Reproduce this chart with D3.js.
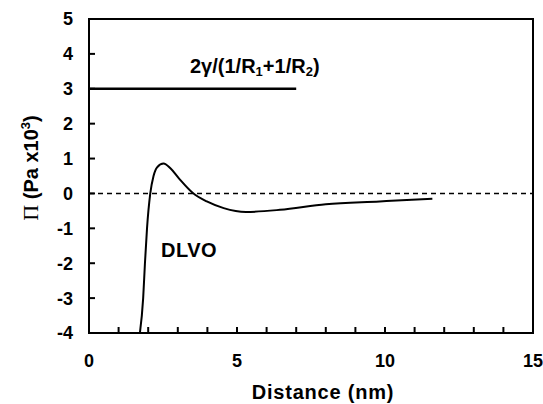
<!DOCTYPE html>
<html>
<head>
<meta charset="utf-8">
<script src="https://cdn.jsdelivr.net/npm/d3@7"></script>
<style>
  body { margin: 0; background: #fff; }
  svg { display: block; font-family: Arial, "Liberation Sans", sans-serif; }
</style>
</head>
<body>
<div id="chart"></div>
<script>
// DLVO curve (distance in nm, pressure in Pa x10^3)
const dlvoX = [1.72, 1.83, 1.89, 1.96, 2.07, 2.18, 2.3, 2.52, 2.75, 3.03, 3.5, 3.98, 4.55, 5.3, 6.45, 8.0, 9.82, 11.6];
const dlvoY = [-4, -3, -2, -1, 0, 0.5, 0.75, 0.86, 0.72, 0.44, 0.02, -0.23, -0.42, -0.53, -0.47, -0.31, -0.23, -0.15];

// capillary pressure level
const capX = [0, 7];
const capY = [3, 3];

const xTickLabels = [0, 5, 10, 15];
const yTickLabels = [5, 4, 3, 2, 1, 0, -1, -2, -3, -4];

const width = 543, height = 404;
const margin = { top: 19, right: 10, bottom: 71, left: 89 };

const svg = d3.select('#chart')
    .append('svg')
    .attr('width', width)
    .attr('height', height);

const x = d3.scaleLinear()
    .domain([0, 15])
    .range([margin.left, width - margin.right]);

const y = d3.scaleLinear()
    .domain([-4, 5])
    .range([height - margin.bottom, margin.top]);

// Zero reference line
svg.append('line')
    .attr('x1', x(0)).attr('x2', x(15))
    .attr('y1', y(0)).attr('y2', y(0))
    .attr('stroke', '#000')
    .attr('stroke-width', 1.5)
    .attr('stroke-dasharray', '5,4');

// Inward ticks: every 1 nm at the bottom, every unit on the left
svg.append('g')
    .selectAll('line')
    .data(x.ticks(15))
    .join('line')
    .attr('x1', d => x(d)).attr('x2', d => x(d))
    .attr('y1', y(-4)).attr('y2', y(-4) - 6)
    .attr('stroke', '#000')
    .attr('stroke-width', 2);

svg.append('g')
    .selectAll('line')
    .data(yTickLabels)
    .join('line')
    .attr('x1', x(0)).attr('x2', x(0) + 6)
    .attr('y1', d => y(d)).attr('y2', d => y(d))
    .attr('stroke', '#000')
    .attr('stroke-width', 2);

// Frame
svg.append('rect')
    .attr('x', x(0)).attr('y', y(5))
    .attr('width', x(15) - x(0))
    .attr('height', y(-4) - y(5))
    .attr('fill', 'none')
    .attr('stroke', '#000')
    .attr('stroke-width', 2);

// Tick labels
svg.append('g')
    .selectAll('text')
    .data(xTickLabels)
    .join('text')
    .attr('x', d => x(d))
    .attr('y', 367)
    .attr('text-anchor', 'middle')
    .attr('font-size', 18)
    .attr('font-weight', 'bold')
    .text(d => d);

svg.append('g')
    .selectAll('text')
    .data(yTickLabels)
    .join('text')
    .attr('x', 73)
    .attr('y', d => y(d))
    .attr('dy', '0.36em')
    .attr('text-anchor', 'end')
    .attr('font-size', 18)
    .attr('font-weight', 'bold')
    .text(d => d);

// Axis titles
svg.append('text')
    .attr('x', 323)
    .attr('y', 399)
    .attr('text-anchor', 'middle')
    .attr('font-size', 20)
    .attr('font-weight', 'bold')
    .attr('letter-spacing', 0.8)
    .text('Distance (nm)');

const yTitle = svg.append('text')
    .attr('transform', 'translate(38,168) rotate(-90)')
    .attr('text-anchor', 'middle')
    .attr('font-size', 20)
    .attr('font-weight', 'bold');
yTitle.append('tspan')
    .attr('font-family', '"Liberation Serif", "Times New Roman", serif')
    .attr('font-weight', 'normal')
    .attr('font-size', 22)
    .text('\u03A0');
yTitle.append('tspan').text(' (Pa x10');
yTitle.append('tspan').attr('font-size', 13).attr('dy', -8).text('3');
yTitle.append('tspan').attr('dy', 8).text(')');

// Capillary line
const line = d3.line()
    .x(d => x(d[0]))
    .y(d => y(d[1]));

svg.append('path')
    .datum(d3.zip(capX, capY))
    .attr('fill', 'none')
    .attr('stroke', '#000')
    .attr('stroke-width', 2.5)
    .attr('d', line);

// DLVO curve
svg.append('path')
    .datum(d3.zip(dlvoX, dlvoY))
    .attr('fill', 'none')
    .attr('stroke', '#000')
    .attr('stroke-width', 2)
    .attr('d', line.curve(d3.curveMonotoneX));

// Annotations
const capLabel = svg.append('text')
    .attr('x', 190)
    .attr('y', 73)
    .attr('font-size', 20)
    .attr('font-weight', 'bold');
capLabel.append('tspan').text('2\u03B3/(1/R');
capLabel.append('tspan').attr('font-size', 13).attr('dy', 3).text('1');
capLabel.append('tspan').attr('dy', -3).text('+1/R');
capLabel.append('tspan').attr('font-size', 13).attr('dy', 3).text('2');
capLabel.append('tspan').attr('dy', -3).text(')');

svg.append('text')
    .attr('x', 161)
    .attr('y', 257)
    .attr('font-size', 20)
    .attr('font-weight', 'bold')
    .attr('letter-spacing', 0.5)
    .text('DLVO');
</script>
</body>
</html>
